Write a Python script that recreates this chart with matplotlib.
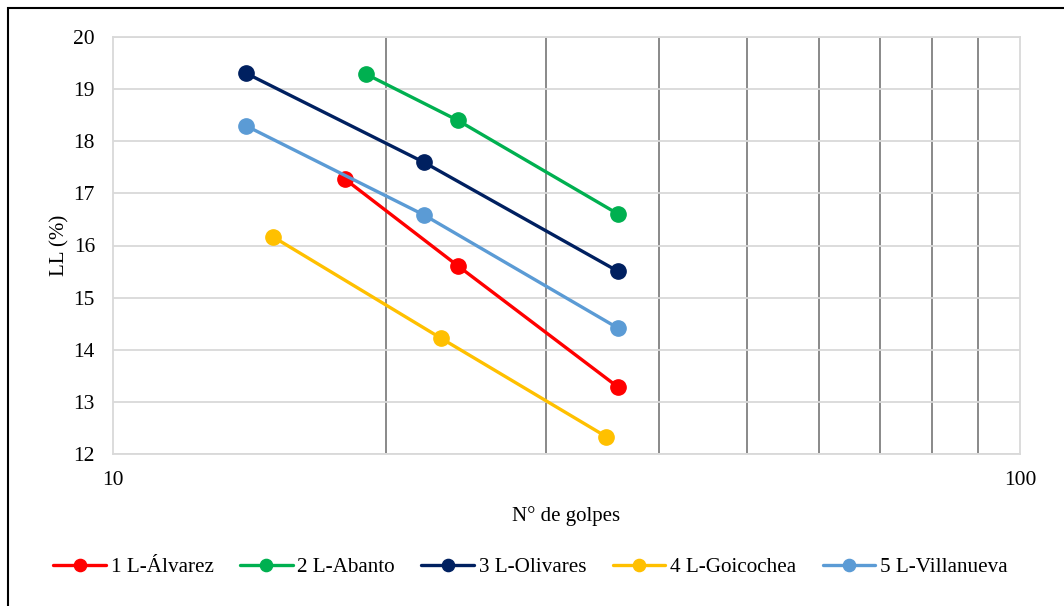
import matplotlib
matplotlib.use("Agg")
import matplotlib.pyplot as plt
from matplotlib.ticker import FixedLocator, NullFormatter, FixedFormatter
from matplotlib.patches import Rectangle

plt.rcParams['font.family'] = ['Liberation Serif', 'DejaVu Serif']

# Number of blows vs liquid limit for each sample
labels = ["1 L-Álvarez", "2 L-Abanto", "3 L-Olivares", "4 L-Goicochea", "5 L-Villanueva"]
colors = ["#ff0000", "#00b050", "#002060", "#ffc000", "#5b9bd5"]

golpes_1 = [18, 24, 36]
ll_1 = [17.28, 15.61, 13.29]
golpes_2 = [19, 24, 36]
ll_2 = [19.29, 18.40, 16.61]
golpes_3 = [14, 22, 36]
ll_3 = [19.31, 17.60, 15.51]
golpes_4 = [15, 23, 35]
ll_4 = [16.17, 14.22, 12.33]
golpes_5 = [14, 22, 36]
ll_5 = [18.30, 16.59, 14.42]

x_series = [golpes_1, golpes_2, golpes_3, golpes_4, golpes_5]
y_series = [ll_1, ll_2, ll_3, ll_4, ll_5]

fig = plt.figure(figsize=(10.64, 6.06), dpi=100)
ax = fig.add_axes([113 / 1064, 1 - 454 / 606, (1020 - 113) / 1064, (454 - 37) / 606])

for xs, ys, lab, col in zip(x_series, y_series, labels, colors):
    ax.plot(xs, ys, color=col, lw=2.4, marker='o', markersize=11, label=lab,
            solid_capstyle='round', zorder=3)

ax.set_xscale('log')
ax.set_xlim(10, 100)
ax.set_ylim(12, 20)
ax.xaxis.set_major_locator(FixedLocator([10, 100]))
ax.xaxis.set_major_formatter(FixedFormatter(["10", "100"]))
ax.xaxis.set_minor_locator(FixedLocator([20, 30, 40, 50, 60, 70, 80, 90]))
ax.xaxis.set_minor_formatter(NullFormatter())
ax.set_yticks(range(12, 21))

ax.grid(True, axis='y', which='major', color='#d9d9d9', lw=1.3, zorder=0)
ax.grid(True, axis='x', which='minor', color='#808080', lw=1.3, zorder=0)
ax.grid(False, axis='x', which='major')

for s in ax.spines.values():
    s.set_color('#d9d9d9')
    s.set_linewidth(1.3)

ax.tick_params(axis='both', which='both', length=0, labelsize=15.5, colors='black')
ax.tick_params(axis='x', pad=12.5)
ax.tick_params(axis='y', pad=13)

ax.set_xlabel("N° de golpes", fontsize=15, labelpad=11)
ax.set_ylabel("LL (%)", fontsize=15, labelpad=3)

fig.legend(loc='center', bbox_to_anchor=(0.4985, 1 - 567 / 606), ncol=5, frameon=False,
           fontsize=15.2, handlelength=2.5, handletextpad=0.22, columnspacing=1.25,
           markerscale=0.8)

# outer chart border
fig.patches.append(Rectangle((8 / 1064, -0.01), 1.05, 1 - 8 / 606 + 0.01,
                             transform=fig.transFigure, fill=False,
                             edgecolor='black', lw=1.5))

fig.savefig("out.png", dpi=100)
